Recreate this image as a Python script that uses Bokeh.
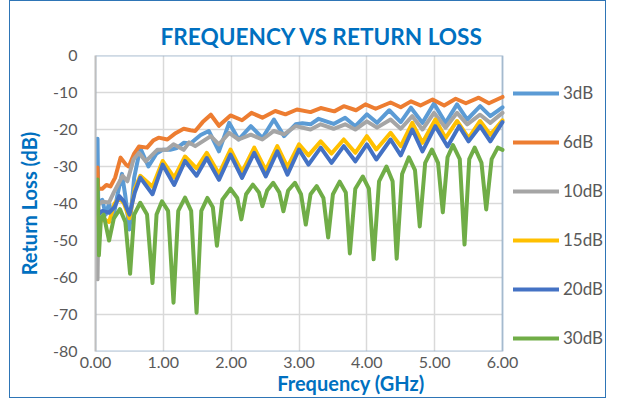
from bokeh.plotting import figure
from bokeh.models import FixedTicker, NumeralTickFormatter, Legend, LegendItem, Range1d, BoxAnnotation
from bokeh.embed import file_html
from bokeh.resources import INLINE

# ---- data ----
series_names = ["3dB", "6dB", "10dB", "15dB", "20dB", "30dB"]
series_colors = ["#5B9BD5", "#ED7D31", "#A5A5A5", "#FFC000", "#4472C4", "#70AD47"]

f_3db = [0.03, 0.04, 0.10, 0.15, 0.20, 0.26, 0.32, 0.39, 0.44, 0.50, 0.57, 0.66, 0.78, 0.90, 0.99, 1.10, 1.20, 1.30, 1.40, 1.47,
         1.55, 1.67, 1.82, 1.97, 2.11, 2.29, 2.46, 2.63, 2.78, 2.95, 3.05, 3.17, 3.29, 3.51, 3.68, 3.83, 4.00, 4.15, 4.33, 4.50,
         4.65, 4.82, 4.99, 5.16, 5.33, 5.48, 5.67, 5.82, 6.00]
rl_3db = [-22.5, -40.0, -39.0, -43.0, -40.0, -44.0, -38.0, -32.0, -38.0, -47.0, -33.0, -25.0, -30.0, -26.5, -25.5, -25.5, -25.0, -23.6, -23.8, -22.7,
          -21.5, -20.4, -25.9, -18.2, -22.7, -19.1, -22.3, -17.3, -21.8, -18.6, -18.3, -18.6, -17.1, -18.5, -16.8, -19.1, -15.9, -18.2, -14.8, -18.0,
          -14.1, -18.2, -13.0, -18.2, -13.2, -17.3, -13.7, -16.4, -14.0]

f_6db = [0.03, 0.04, 0.10, 0.16, 0.22, 0.29, 0.37, 0.45, 0.49, 0.57, 0.64, 0.76, 0.85, 0.93, 1.06, 1.18, 1.30, 1.40, 1.47, 1.58,
         1.70, 1.82, 1.99, 2.16, 2.30, 2.46, 2.65, 2.80, 2.97, 3.17, 3.32, 3.52, 3.66, 3.84, 3.98, 4.13, 4.35, 4.50, 4.65, 4.79,
         4.97, 5.14, 5.31, 5.46, 5.65, 5.80, 6.00]
rl_6db = [-30.3, -36.0, -36.0, -35.0, -35.4, -33.0, -27.6, -29.5, -30.0, -26.5, -24.6, -24.9, -23.0, -22.2, -22.7, -21.0, -19.8, -20.2, -20.4, -18.0,
          -16.0, -19.0, -16.2, -17.5, -15.5, -16.8, -15.0, -15.9, -14.6, -15.3, -14.2, -15.1, -13.7, -14.8, -13.2, -14.4, -12.7, -14.0, -12.4, -13.5,
          -11.9, -13.5, -11.7, -12.9, -11.4, -12.9, -11.2]

f_10db = [0.03, 0.045, 0.10, 0.20, 0.27, 0.40, 0.47, 0.56, 0.64, 0.74, 0.91, 1.05, 1.15, 1.30, 1.38, 1.47, 1.70, 1.82, 1.97, 2.11,
          2.29, 2.46, 2.63, 2.78, 2.95, 3.17, 3.32, 3.51, 3.68, 3.83, 4.00, 4.15, 4.35, 4.50, 4.67, 4.82, 4.99, 5.16, 5.33, 5.48,
          5.67, 5.82, 6.00]
rl_10db = [-60.5, -40.3, -39.5, -39.7, -37.0, -32.5, -34.0, -28.1, -26.3, -28.6, -25.5, -25.5, -24.0, -25.5, -23.5, -24.5, -21.8, -24.0, -20.9, -22.7,
           -21.4, -22.7, -20.4, -21.3, -19.1, -20.0, -18.6, -19.8, -18.6, -20.0, -17.8, -19.5, -17.3, -19.8, -16.4, -20.0, -15.5, -19.5, -15.5, -18.6,
           -16.0, -18.2, -15.5]

f_15db = [0.03, 0.045, 0.10, 0.20, 0.28, 0.35, 0.42, 0.50, 0.58, 0.66, 0.84, 0.99, 1.16, 1.32, 1.49, 1.64, 1.82, 1.99, 2.16, 2.34,
          2.51, 2.68, 2.83, 3.00, 3.14, 3.32, 3.48, 3.66, 3.83, 4.00, 4.14, 4.35, 4.50, 4.67, 4.82, 5.01, 5.16, 5.33, 5.50, 5.67,
          5.82, 6.00]
rl_15db = [-41.0, -46.0, -44.0, -45.0, -40.0, -38.5, -40.0, -44.0, -36.0, -32.5, -35.5, -28.5, -33.0, -27.3, -30.5, -26.3, -32.0, -25.4, -31.5, -24.9,
           -31.0, -24.5, -30.2, -24.0, -27.0, -23.2, -26.5, -22.7, -26.3, -21.8, -25.4, -20.9, -24.5, -18.2, -23.6, -17.3, -22.3, -17.7, -22.3, -17.7,
           -21.4, -17.5]

f_20db = [0.03, 0.045, 0.10, 0.20, 0.28, 0.35, 0.42, 0.50, 0.58, 0.66, 0.84, 0.99, 1.16, 1.32, 1.49, 1.64, 1.82, 1.99, 2.16, 2.34,
          2.51, 2.68, 2.83, 3.00, 3.14, 3.32, 3.48, 3.66, 3.83, 4.00, 4.14, 4.35, 4.50, 4.67, 4.82, 5.01, 5.19, 5.36, 5.50, 5.67,
          5.82, 6.00]
rl_20db = [-38.5, -43.0, -42.0, -42.5, -41.0, -38.0, -39.5, -43.0, -37.0, -33.0, -37.5, -29.5, -35.0, -28.5, -32.5, -27.7, -33.6, -26.8, -33.1, -26.3,
           -32.7, -25.9, -32.2, -25.4, -29.5, -24.9, -29.0, -24.5, -28.6, -24.0, -28.1, -22.7, -27.0, -20.0, -25.9, -19.1, -24.6, -19.1, -23.2, -19.1,
           -23.2, -18.0]

f_30db = [0.03, 0.05, 0.08, 0.12, 0.20, 0.27, 0.36, 0.44, 0.51, 0.57, 0.66, 0.76, 0.84, 0.90, 0.98, 1.07, 1.15, 1.22, 1.32, 1.41,
          1.49, 1.56, 1.65, 1.73, 1.79, 1.87, 1.99, 2.09, 2.15, 2.22, 2.32, 2.41, 2.46, 2.53, 2.62, 2.71, 2.77, 2.84, 2.94, 3.03,
          3.10, 3.17, 3.26, 3.36, 3.43, 3.50, 3.60, 3.69, 3.75, 3.83, 3.94, 4.03, 4.10, 4.18, 4.29, 4.38, 4.44, 4.52, 4.62, 4.71,
          4.78, 4.86, 4.96, 5.05, 5.12, 5.19, 5.27, 5.37, 5.44, 5.51, 5.59, 5.69, 5.76, 5.84, 5.93, 6.00]
rl_30db = [-33.5, -54.0, -44.0, -43.0, -50.0, -44.0, -41.5, -45.0, -59.0, -43.0, -39.8, -43.0, -61.5, -43.0, -39.4, -42.0, -66.8, -42.0, -38.4, -42.0,
           -69.5, -42.0, -38.5, -41.0, -51.4, -39.0, -36.0, -38.5, -44.3, -37.5, -34.9, -37.0, -40.7, -36.5, -34.4, -37.0, -42.1, -36.5, -34.4, -37.5,
           -45.7, -37.5, -35.3, -38.5, -49.2, -37.5, -34.1, -37.0, -53.5, -36.0, -32.7, -36.0, -55.1, -34.0, -30.0, -34.0, -54.9, -32.0, -27.5, -31.0,
           -46.2, -29.0, -25.4, -29.0, -42.4, -27.5, -24.2, -28.0, -51.1, -28.0, -24.9, -29.0, -41.6, -28.0, -24.9, -25.5]

x_ticks = [0, 1, 2, 3, 4, 5, 6]
y_ticks = [-80, -70, -60, -50, -40, -30, -20, -10, 0]

freqs = [f_3db, f_6db, f_10db, f_15db, f_20db, f_30db]
losses = [rl_3db, rl_6db, rl_10db, rl_15db, rl_20db, rl_30db]

FONT = "Lato"
BLUE = "#0070C0"
EDGE = "#2E75B6"
GREY_TXT = "#595959"
GRID = "#D9D9D9"

# ---- layout (pixels) ----
W, H = 597, 398
LEFT, RIGHT, TOP, BOTTOM = 85, 1, 54, 48
PLOT_PX = 407                      # width of the 0..6 GHz plot area
PLOT_PY = 296                      # height of the plot area
frame_px = W - LEFT - RIGHT        # frame also holds the legend
x_end = x_ticks[-1] * frame_px / PLOT_PX

p = figure(width=W, height=H, output_backend="svg", toolbar_location=None,
           x_range=Range1d(x_ticks[0], x_end), y_range=Range1d(y_ticks[0], y_ticks[-1]),
           min_border_left=LEFT, min_border_right=RIGHT, min_border_top=TOP, min_border_bottom=BOTTOM,
           title="FREQUENCY VS RETURN LOSS")
p.styles = {"border": "1.5px solid " + EDGE, "margin-left": "9px", "margin-top": "0px"}
p.outline_line_color = None

p.title.text_font = FONT
p.title.text_font_size = "22.6px"
p.title.text_font_style = "bold"
p.title.text_color = BLUE
p.title.align = "left"
p.title.vertical_align = "middle"
p.title.offset = 65
p.title.standoff = 10

p.xaxis.ticker = FixedTicker(ticks=x_ticks)
p.yaxis.ticker = FixedTicker(ticks=y_ticks)
p.xaxis.formatter = NumeralTickFormatter(format="0.00")
p.yaxis.formatter = NumeralTickFormatter(format="0")

for ax in (p.xaxis, p.yaxis):
    ax.major_tick_line_color = None
    ax.minor_tick_line_color = None
    ax.major_tick_out = 0
    ax.major_tick_in = 0
    ax.minor_tick_out = 0
    ax.major_label_text_font = FONT
    ax.major_label_text_font_size = "16px"
    ax.major_label_text_color = GREY_TXT
    ax.axis_label_text_font = FONT
    ax.axis_label_text_font_size = "20px"
    ax.axis_label_text_font_style = "bold"
    ax.axis_label_text_color = BLUE

p.xaxis.axis_line_color = None
p.yaxis.axis_line_color = "#BFBFBF"
p.yaxis.axis_line_width = 2
p.xaxis.axis_label = "Frequency (GHz)"
p.yaxis.axis_label = "Return Loss (dB)"
p.xaxis.major_label_standoff = 5
p.xaxis.axis_label_standoff = 0
p.yaxis.major_label_standoff = 18
p.yaxis.axis_label_standoff = 9

p.xgrid.grid_line_color = GRID
p.xgrid.grid_line_width = 1.5
p.ygrid.visible = False

# horizontal grid lines only across the 0..6 GHz plot area
n = len(y_ticks)
p.segment(x0=[x_ticks[0]] * n, y0=y_ticks, x1=[x_ticks[-1]] * n, y1=y_ticks,
          line_color=GRID, line_width=1.5, level="underlay")

# plot-area border (top, right, bottom in blue)
p.add_layout(BoxAnnotation(left=x_ticks[0], right=x_ticks[-1], bottom=y_ticks[0], top=y_ticks[-1],
                           fill_alpha=0, line_color=EDGE, line_width=2, level="underlay"))

items = []
for name, color, fx, fy in zip(series_names, series_colors, freqs, losses):
    r = p.line(fx, fy, line_color=color, line_width=4, line_join="round", line_cap="round")
    items.append(LegendItem(label=name, renderers=[r]))

legend = Legend(items=items, location=(PLOT_PX + 11, 3), orientation="vertical",
                glyph_width=46, glyph_height=20, label_height=20, spacing=28,
                padding=0, margin=0, label_standoff=4,
                label_text_font=FONT, label_text_font_size="17px", label_text_color=GREY_TXT,
                border_line_color=None, background_fill_alpha=0)
p.add_layout(legend)

open("out.html", "w").write(file_html(p, INLINE))
